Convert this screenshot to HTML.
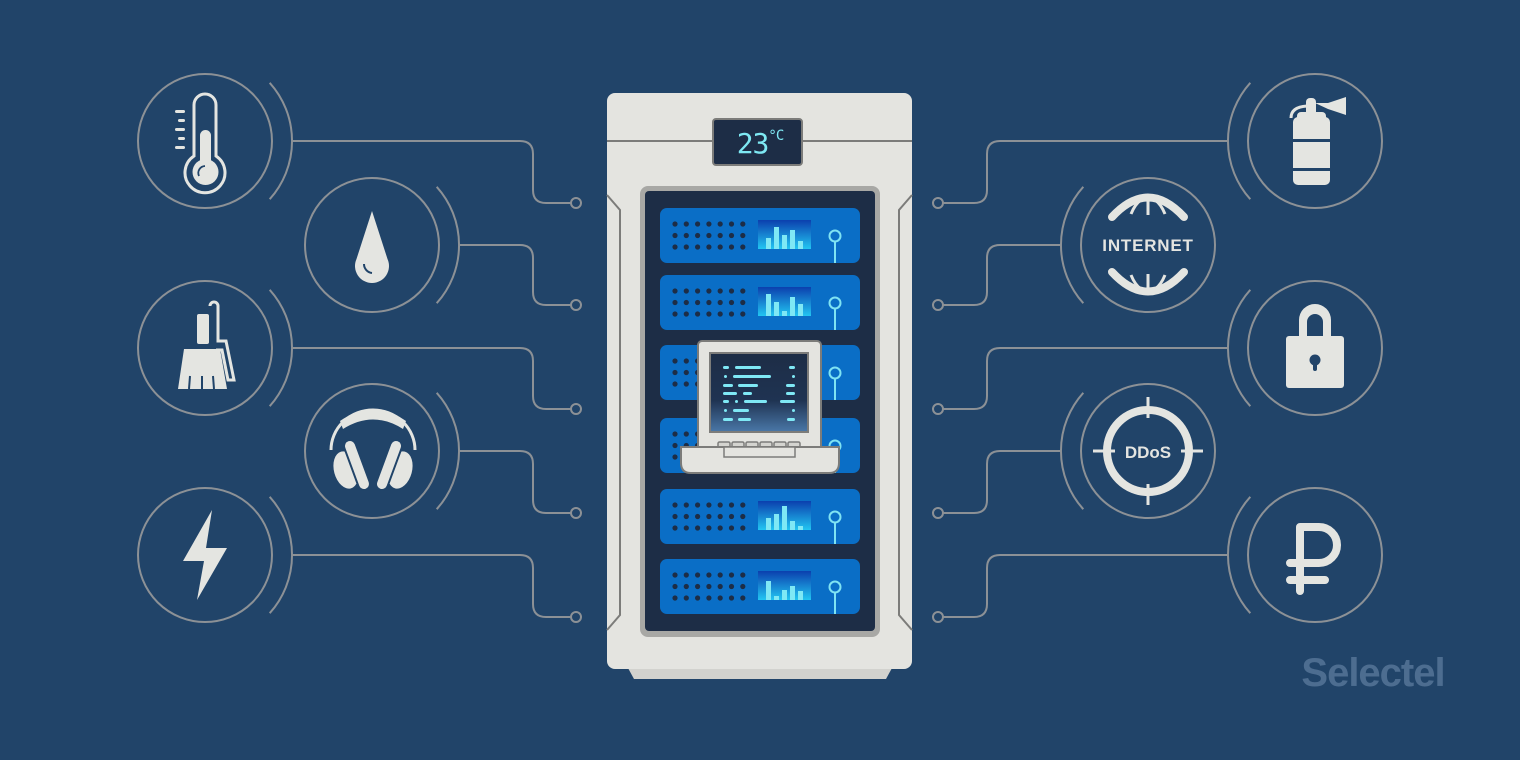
<!DOCTYPE html>
<html><head><meta charset="utf-8"><style>
html,body{margin:0;padding:0;background:#214469;}
svg{display:block}
</style></head><body>
<svg width="1520" height="760" viewBox="0 0 1520 760" xmlns="http://www.w3.org/2000/svg">
<defs>
<linearGradient id="scr" x1="0" y1="0" x2="0" y2="1"><stop offset="0" stop-color="#0b3fae"/><stop offset="1" stop-color="#22c6f2"/></linearGradient>
<linearGradient id="lap" x1="0" y1="0" x2="0" y2="1"><stop offset="0" stop-color="#1d2d46"/><stop offset="0.6" stop-color="#1f3352"/><stop offset="1" stop-color="#4a78a8"/></linearGradient>
<g id="srv">
<rect x="0" y="0" width="200" height="55" rx="7" fill="#0a6ec6"/>
<g fill="#1d2d46">
<circle cx="15" cy="16" r="2.6"/><circle cx="26.3" cy="16" r="2.6"/><circle cx="37.6" cy="16" r="2.6"/><circle cx="48.9" cy="16" r="2.6"/><circle cx="60.2" cy="16" r="2.6"/><circle cx="71.5" cy="16" r="2.6"/><circle cx="82.8" cy="16" r="2.6"/>
<circle cx="15" cy="27.5" r="2.6"/><circle cx="26.3" cy="27.5" r="2.6"/><circle cx="37.6" cy="27.5" r="2.6"/><circle cx="48.9" cy="27.5" r="2.6"/><circle cx="60.2" cy="27.5" r="2.6"/><circle cx="71.5" cy="27.5" r="2.6"/><circle cx="82.8" cy="27.5" r="2.6"/>
<circle cx="15" cy="39" r="2.6"/><circle cx="26.3" cy="39" r="2.6"/><circle cx="37.6" cy="39" r="2.6"/><circle cx="48.9" cy="39" r="2.6"/><circle cx="60.2" cy="39" r="2.6"/><circle cx="71.5" cy="39" r="2.6"/><circle cx="82.8" cy="39" r="2.6"/>
</g>
<rect x="98" y="12" width="53" height="29" fill="url(#scr)"/>
<circle cx="175" cy="28" r="5.5" fill="none" stroke="#7fe3f3" stroke-width="2"/>
<line x1="175" y1="34" x2="175" y2="55" stroke="#7fe3f3" stroke-width="2"/>
</g>
</defs>

<g fill="none" stroke="#8c9196" stroke-width="2">
<circle cx="205" cy="141" r="67"/><circle cx="372" cy="245" r="67"/><circle cx="205" cy="348" r="67"/><circle cx="372" cy="451" r="67"/><circle cx="205" cy="555" r="67"/>
<path d="M269.7,82.8 A87 87 0 0 1 269.7,199.2"/>
<path d="M436.7,186.8 A87 87 0 0 1 436.7,303.2"/>
<path d="M269.7,289.8 A87 87 0 0 1 269.7,406.2"/>
<path d="M436.7,392.8 A87 87 0 0 1 436.7,509.2"/>
<path d="M269.7,496.8 A87 87 0 0 1 269.7,613.2"/>
<path d="M292,141 H520 Q533,141 533,154 V190 Q533,203 546,203 H571"/>
<path d="M459,245 H520 Q533,245 533,258 V292 Q533,305 546,305 H571"/>
<path d="M292,348 H520 Q533,348 533,361 V396 Q533,409 546,409 H571"/>
<path d="M459,451 H520 Q533,451 533,464 V500 Q533,513 546,513 H571"/>
<path d="M292,555 H520 Q533,555 533,568 V604 Q533,617 546,617 H571"/>
<circle cx="576" cy="203" r="5"/><circle cx="576" cy="305" r="5"/><circle cx="576" cy="409" r="5"/><circle cx="576" cy="513" r="5"/><circle cx="576" cy="617" r="5"/>

<circle cx="1315" cy="141" r="67"/><circle cx="1148" cy="245" r="67"/><circle cx="1315" cy="348" r="67"/><circle cx="1148" cy="451" r="67"/><circle cx="1315" cy="555" r="67"/>
<path d="M1250.3,82.8 A87 87 0 0 0 1250.3,199.2"/>
<path d="M1083.3,186.8 A87 87 0 0 0 1083.3,303.2"/>
<path d="M1250.3,289.8 A87 87 0 0 0 1250.3,406.2"/>
<path d="M1083.3,392.8 A87 87 0 0 0 1083.3,509.2"/>
<path d="M1250.3,496.8 A87 87 0 0 0 1250.3,613.2"/>
<path d="M1228,141 H1000 Q987,141 987,154 V190 Q987,203 974,203 H943"/>
<path d="M1061,245 H1000 Q987,245 987,258 V292 Q987,305 974,305 H943"/>
<path d="M1228,348 H1000 Q987,348 987,361 V396 Q987,409 974,409 H943"/>
<path d="M1061,451 H1000 Q987,451 987,464 V500 Q987,513 974,513 H943"/>
<path d="M1228,555 H1000 Q987,555 987,568 V604 Q987,617 974,617 H943"/>
<circle cx="938" cy="203" r="5"/><circle cx="938" cy="305" r="5"/><circle cx="938" cy="409" r="5"/><circle cx="938" cy="513" r="5"/><circle cx="938" cy="617" r="5"/>
</g>

<g fill="#e4e5e1" stroke="none">
<path d="M194,105 A11 11 0 0 1 216,105 V156 A20 20 0 1 1 194,156 Z" fill="none" stroke="#e4e5e1" stroke-width="3"/>
<rect x="200" y="130" width="11" height="40" rx="5.5"/>
<circle cx="205.5" cy="172" r="13"/>
<path d="M199,176 A7 7 0 0 1 205,166" fill="none" stroke="#214469" stroke-width="1.8"/>
<rect x="175" y="110" width="10" height="3" rx="1.5"/><rect x="178" y="119" width="7" height="3" rx="1.5"/><rect x="175" y="128" width="10" height="3" rx="1.5"/><rect x="178" y="137" width="7" height="3" rx="1.5"/><rect x="175" y="146" width="10" height="3" rx="1.5"/>
<path d="M372,211 L387.5,259 A17 17 0 1 1 356.5,259 Z"/>
<path d="M364,264 A9 9 0 0 0 372,273" fill="none" stroke="#214469" stroke-width="2"/>
<path d="M210,306 A4 4 0 0 1 218,306 V341 H226 L234,380 H228 L222,350 H216" fill="none" stroke="#e4e5e1" stroke-width="3"/>
<rect x="197" y="314" width="12" height="30" rx="2"/>
<path d="M184,349 H220 L227,389 H178 Z"/>
<g stroke="#214469" stroke-width="2"><line x1="190" y1="376" x2="189" y2="389"/><line x1="202" y1="376" x2="202" y2="389"/><line x1="213" y1="376" x2="214" y2="389"/></g>
<!-- headphones -->
<path d="M331,450 A42 40 0 0 1 415,450" fill="none" stroke="#e4e5e1" stroke-width="3"/>
<path d="M340,421 Q373,398 406,421 L403,429 Q373,410 343,429 Z"/>
<ellipse cx="346" cy="470" rx="12" ry="19" transform="rotate(-15 346 470)"/>
<ellipse cx="400" cy="470" rx="12" ry="19" transform="rotate(15 400 470)"/>
<line x1="350" y1="446" x2="364" y2="484" stroke="#214469" stroke-width="14" stroke-linecap="round"/>
<line x1="396" y1="446" x2="382" y2="484" stroke="#214469" stroke-width="14" stroke-linecap="round"/>
<line x1="350" y1="446" x2="364" y2="484" stroke="#e4e5e1" stroke-width="10" stroke-linecap="round"/>
<line x1="396" y1="446" x2="382" y2="484" stroke="#e4e5e1" stroke-width="10" stroke-linecap="round"/>
<path d="M212,510 L183,561 L204,561 L197,600 L227,548 L206,548 Z"/>

<rect x="1293" y="117" width="37" height="68" rx="5"/>
<rect x="1297" y="112" width="29" height="12" rx="4"/>
<rect x="1306" y="98" width="10" height="18" rx="4"/>
<path d="M1315,103 L1328,103 L1346,97 L1346,115 L1328,109 Z"/>
<path d="M1291,118 Q1291,107 1307,106" fill="none" stroke="#e4e5e1" stroke-width="3"/>
<rect x="1290" y="139" width="42" height="3" fill="#214469"/>
<rect x="1290" y="168" width="42" height="3" fill="#214469"/>
<path d="M1112,217 Q1148,178 1184,217" fill="none" stroke="#e4e5e1" stroke-width="8" stroke-linecap="round"/>
<path d="M1112,272 Q1148,311 1184,272" fill="none" stroke="#e4e5e1" stroke-width="8" stroke-linecap="round"/>
<g stroke="#e4e5e1" stroke-width="3" fill="none"><line x1="1148" y1="200" x2="1148" y2="215"/><path d="M1131,214 Q1135,204 1141,200"/><path d="M1165,214 Q1161,204 1155,200"/><line x1="1148" y1="274" x2="1148" y2="289"/><path d="M1131,275 Q1135,285 1141,289"/><path d="M1165,275 Q1161,285 1155,289"/></g>
<text x="1148" y="251" text-anchor="middle" font-family="Liberation Sans, sans-serif" font-weight="bold" font-size="17" letter-spacing="0.8">INTERNET</text>
<path d="M1299,336 V320 A16 16 0 0 1 1331,320 V336 H1323 V322 A8 8 0 0 0 1307,322 V336 Z"/>
<rect x="1286" y="336" width="58" height="52" rx="3"/>
<circle cx="1315" cy="360" r="5.5" fill="#214469"/><rect x="1313" y="362" width="4" height="9" rx="2" fill="#214469"/>
<circle cx="1148" cy="451" r="41" fill="none" stroke="#e4e5e1" stroke-width="8"/>
<g stroke="#e4e5e1" stroke-width="3"><line x1="1148" y1="397" x2="1148" y2="418"/><line x1="1148" y1="484" x2="1148" y2="505"/><line x1="1093" y1="451" x2="1115" y2="451"/><line x1="1181" y1="451" x2="1203" y2="451"/></g>
<text x="1148" y="458" text-anchor="middle" font-family="Liberation Sans, sans-serif" font-weight="bold" font-size="17">DDoS</text>
<path d="M1300,591 V527 H1319 A18 18 0 0 1 1319,563 H1290 M1290,580 H1325" fill="none" stroke="#e4e5e1" stroke-width="8" stroke-linecap="round" stroke-linejoin="round"/>
</g>

<path d="M628,668 H892 L886,679 H634 Z" fill="#d2d2ce"/>
<rect x="607" y="93" width="305" height="576" rx="8" fill="#e4e4e0"/>
<line x1="607" y1="141" x2="912" y2="141" stroke="#7c7c7a" stroke-width="2"/>
<path d="M607,195 L620,210 V615 L607,630" fill="none" stroke="#7c7c7a" stroke-width="2"/>
<path d="M912,195 L899,210 V615 L912,630" fill="none" stroke="#7c7c7a" stroke-width="2"/>
<rect x="713" y="119" width="89" height="46" rx="3" fill="#1d2d46" stroke="#7c7c7a" stroke-width="2"/>
<text x="760" y="153" text-anchor="middle" font-family="DejaVu Sans Mono, Liberation Mono, monospace" font-size="28" fill="#7ee8f3" letter-spacing="-1">23<tspan font-size="14" dy="-13">°C</tspan></text>
<rect x="640" y="186" width="240" height="451" rx="8" fill="#a8a8a5"/>
<rect x="645" y="191" width="230" height="440" rx="4" fill="#1d2d46"/>

<g fill="#7fe8f5">
<use href="#srv" x="660" y="208"/>
<rect x="766" y="238" width="5" height="11"/><rect x="774" y="227" width="5" height="22"/><rect x="782" y="235" width="5" height="14"/><rect x="790" y="230" width="5" height="19"/><rect x="798" y="241" width="5" height="8"/>
<use href="#srv" x="660" y="275"/>
<rect x="766" y="294" width="5" height="22"/><rect x="774" y="302" width="5" height="14"/><rect x="782" y="311" width="5" height="5"/><rect x="790" y="297" width="5" height="19"/><rect x="798" y="304" width="5" height="12"/>
<use href="#srv" x="660" y="345"/>
<use href="#srv" x="660" y="418"/>
<use href="#srv" x="660" y="489"/>
<rect x="766" y="518" width="5" height="12"/><rect x="774" y="514" width="5" height="16"/><rect x="782" y="506" width="5" height="24"/><rect x="790" y="521" width="5" height="9"/><rect x="798" y="526" width="5" height="4"/>
<use href="#srv" x="660" y="559"/>
<rect x="766" y="581" width="5" height="19"/><rect x="774" y="596" width="5" height="4"/><rect x="782" y="590" width="5" height="10"/><rect x="790" y="586" width="5" height="14"/><rect x="798" y="591" width="5" height="9"/>
</g>

<rect x="698" y="341" width="123" height="110" rx="4" fill="#e4e4e0" stroke="#7c7c7a" stroke-width="2"/>
<rect x="710" y="353" width="98" height="79" fill="url(#lap)" stroke="#7c7c7a" stroke-width="2"/>
<g fill="#7fe8f5">
<rect x="723" y="366" width="6" height="3" rx="1.5"/><rect x="735" y="366" width="26" height="3" rx="1.5"/><rect x="789" y="366" width="6" height="3" rx="1.5"/>
<rect x="724" y="375" width="3" height="3" rx="1.5"/><rect x="733" y="375" width="38" height="3" rx="1.5"/><rect x="792" y="375" width="3" height="3" rx="1.5"/>
<rect x="723" y="384" width="10" height="3" rx="1.5"/><rect x="738" y="384" width="20" height="3" rx="1.5"/><rect x="786" y="384" width="9" height="3" rx="1.5"/>
<rect x="723" y="392" width="14" height="3" rx="1.5"/><rect x="743" y="392" width="9" height="3" rx="1.5"/><rect x="786" y="392" width="9" height="3" rx="1.5"/>
<rect x="723" y="400" width="6" height="3" rx="1.5"/><rect x="735" y="400" width="3" height="3" rx="1.5"/><rect x="744" y="400" width="23" height="3" rx="1.5"/><rect x="780" y="400" width="15" height="3" rx="1.5"/>
<rect x="724" y="409" width="3" height="3" rx="1.5"/><rect x="733" y="409" width="16" height="3" rx="1.5"/><rect x="792" y="409" width="3" height="3" rx="1.5"/>
<rect x="723" y="418" width="10" height="3" rx="1.5"/><rect x="738" y="418" width="13" height="3" rx="1.5"/><rect x="787" y="418" width="8" height="3" rx="1.5"/>
</g>
<g fill="#d4d4d0" stroke="#7c7c7a" stroke-width="1.5">
<rect x="718" y="442" width="12" height="6" rx="1.5"/><rect x="732" y="442" width="12" height="6" rx="1.5"/><rect x="746" y="442" width="12" height="6" rx="1.5"/><rect x="760" y="442" width="12" height="6" rx="1.5"/><rect x="774" y="442" width="12" height="6" rx="1.5"/><rect x="788" y="442" width="12" height="6" rx="1.5"/>
</g>
<path d="M681,447 H839 V463 Q839,473 829,473 H691 Q681,473 681,463 Z" fill="#e4e4e0" stroke="#7c7c7a" stroke-width="2"/>
<rect x="724" y="447" width="71" height="10" fill="#e4e4e0" stroke="#7c7c7a" stroke-width="1.5"/>

<text x="1373" y="686" text-anchor="middle" font-family="Liberation Sans, sans-serif" font-weight="bold" font-size="40" fill="#4d6d90" letter-spacing="-1">Selectel</text>
</svg>
</body></html>
